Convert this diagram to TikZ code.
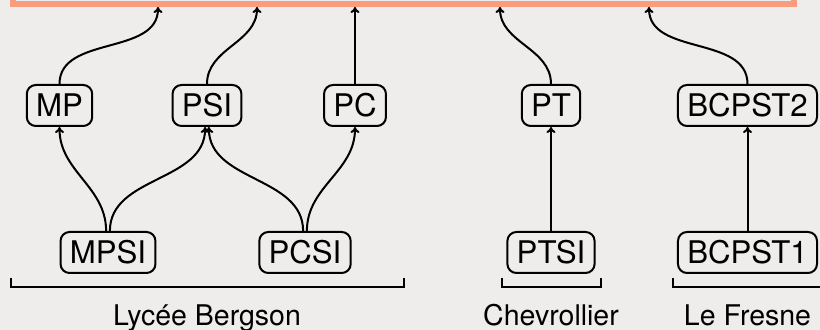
\documentclass[tikz,border=0pt]{standalone}
\usepackage{fontspec}
\setmainfont{TeX Gyre Heros}
\usepackage{tikz}
\usetikzlibrary{arrows.meta}
\definecolor{fond}{RGB}{238,237,235}
\definecolor{saumon}{RGB}{249,155,125}

\begin{document}
\begin{tikzpicture}[%
x=0.5pt,
y=0.5pt,
classe/.style={draw,rounded corners=4.5pt,line width=1pt,inner sep=4.65pt,text height=11.2pt,text depth=0pt,font=\fontsize{15.6}{18}\selectfont},
lycee/.style={anchor=base,font=\fontsize{14.25}{17}\selectfont},
fleche/.style={-{To[length=3pt,width=4.5pt]},line width=1pt},
accolade/.style={line width=1pt},
]
\clip (0,0) rectangle (820,-330);
\fill[fond] (0,0) rectangle (820,-330);

%Cadre
\draw[saumon,line width=2.75pt] (13,20) -- (13,-4) -- (794,-4) -- (794,20);
\coordinate (T1) at (158,-7);
\coordinate (T2) at (257,-7);
\coordinate (T3) at (355,-7);
\coordinate (T4) at (500,-7);
\coordinate (T5) at (649,-7);

%Classes
\node[classe] (MP) at (59.5,-105.5) {MP};
\node[classe] (PSI) at (207,-105.5) {PSI};
\node[classe] (PC) at (355,-105.5) {PC};
\node[classe] (PT) at (551,-105.5) {PT};
\node[classe] (BCPST2) at (747.5,-105.5) {BCPST2};
\node[classe] (MPSI) at (108,-252.5) {MPSI};
\node[classe] (PCSI) at (305,-252.5) {PCSI};
\node[classe] (PTSI) at (551,-252.5) {PTSI};
\node[classe] (BCPST1) at (747.5,-252.5) {BCPST1};

%Fleches
\draw[fleche] (MP.north) to[out=90,in=-90] (T1);
\draw[fleche] (PSI.north) to[out=90,in=-90] (T2);
\draw[fleche] (PC.north) -- (T3);
\draw[fleche] (PT.north) to[out=90,in=-90] (T4);
\draw[fleche] (BCPST2.north) to[out=90,in=-90] (T5);
\draw[fleche] (MPSI.95) to[out=90,in=-90] (MP.south);
\draw[fleche] (MPSI.85) to[out=90,in=-90] (PSI.265);
\draw[fleche] (PCSI.95) to[out=90,in=-90] (PSI.275);
\draw[fleche] (PCSI.85) to[out=90,in=-90] (PC.south);
\draw[fleche] (PTSI.north) -- (PT.south);
\draw[fleche] (BCPST1.north) -- (BCPST2.south);

%Lycees
\draw[accolade] (10.5,-278) -- (10.5,-287) -- (404,-287) -- (404,-278);
\draw[accolade] (502,-278) -- (502,-287) -- (601,-287) -- (601,-278);
\draw[accolade] (673,-278) -- (673,-287) -- (824,-287) -- (824,-278);
\node[lycee] (bergson) at (207,-326) {Lycée Bergson};
\node[lycee] (chevrollier) at (551,-326) {Chevrollier};
\node[lycee] (fresne) at (747.5,-326) {Le Fresne};

\end{tikzpicture}
\end{document}
